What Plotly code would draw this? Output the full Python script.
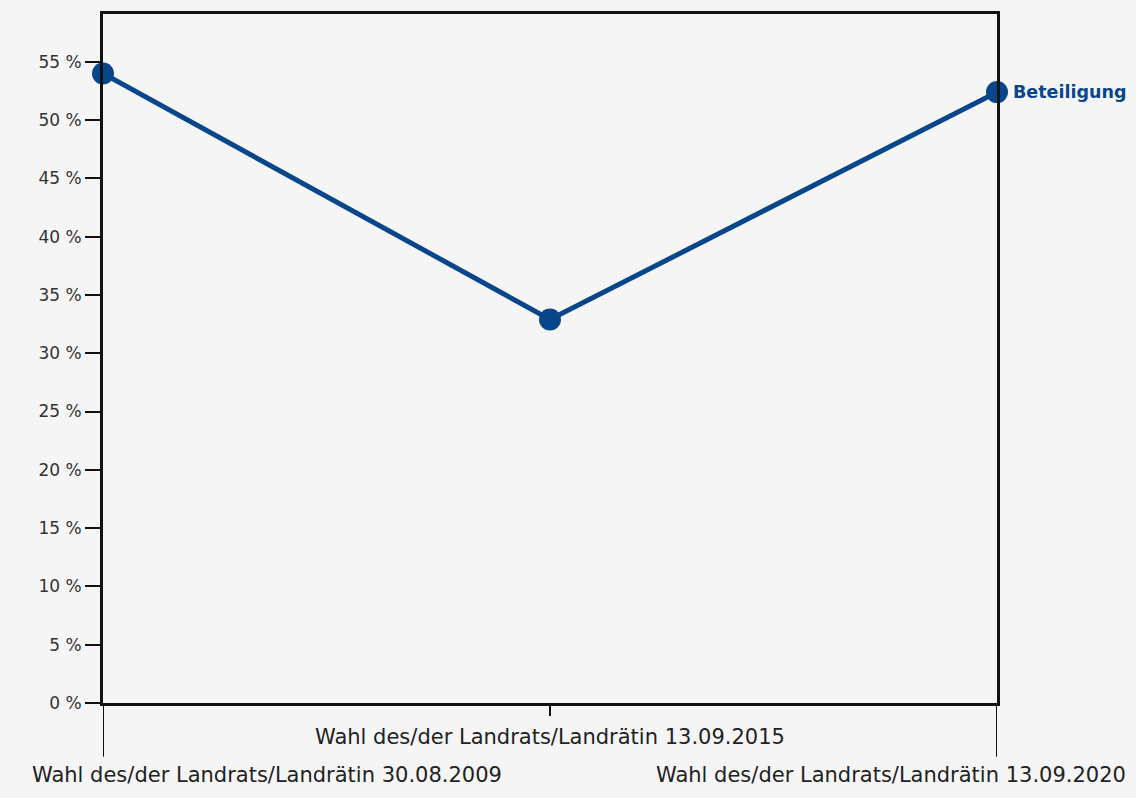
import plotly.graph_objects as go

categories = [
    "Wahl des/der Landrats/Landrätin 30.08.2009",
    "Wahl des/der Landrats/Landrätin 13.09.2015",
    "Wahl des/der Landrats/Landrätin 13.09.2020",
]
beteiligung = [54.0, 32.9, 52.4]
series_name = "Beteiligung"
title_text = "Wahlbeteiligung"
y_ticks = list(range(0, 56, 5))
y_ticktext = [f"{v} %" for v in y_ticks]

BLUE = "#07468a"
BG = "#f5f5f5"
FONT = "DejaVu Sans, Verdana, sans-serif"

x_idx = list(range(len(categories)))

fig = go.Figure()
fig.add_trace(go.Scatter(
    x=x_idx, y=beteiligung, mode="lines+markers", name=series_name,
    line=dict(color=BLUE, width=5),
    marker=dict(color=BLUE, size=22),
    cliponaxis=False, showlegend=False,
))

# series label at the last point
fig.add_annotation(
    x=x_idx[-1], y=beteiligung[-1], xref="x", yref="y",
    text="<b>" + series_name + "</b>", showarrow=False, xanchor="left", yanchor="middle",
    xshift=14, font=dict(family=FONT, size=17.5, color=BLUE),
)

# x category labels (staggered) and tick lines
n = len(categories)
for i, cat in enumerate(categories):
    long_tick = (i % 2 == 0)
    fig.add_shape(type="line", xref="x", yref="paper",
                  x0=i, x1=i, y0=0, y1=(-0.078 if long_tick else -0.019),
                  line=dict(color="#111111", width=2), layer="above")
    if i == 0:
        anchor, shift = "left", -73
    elif i == n - 1:
        anchor, shift = "right", 131
    else:
        anchor, shift = "center", 0
    fig.add_annotation(
        x=i, y=0, xref="x", yref="paper", text=cat, showarrow=False,
        xanchor=anchor, xshift=shift, yanchor="middle",
        yshift=(-72 if long_tick else -34),
        font=dict(family=FONT, size=21, color="#222222"),
    )

# title (mostly clipped at top of page)
fig.add_annotation(
    x=0.534, y=1.03, xref="paper", yref="paper", text="<b>" + title_text + "</b>",
    showarrow=False, xanchor="center", yanchor="bottom",
    font=dict(family=FONT, size=26, color="#222222"),
)

fig.update_xaxes(
    range=[0, n - 1], showticklabels=False, ticks="",
    showgrid=False, zeroline=False, showline=True, mirror=True,
    linecolor="#111111", linewidth=3,
)
fig.update_yaxes(
    range=[0, 59.1], tickmode="array", tickvals=y_ticks, ticktext=y_ticktext,
    ticks="outside", ticklen=15, tickwidth=2, tickcolor="#111111",
    showgrid=False, zeroline=False, showline=True, mirror=True,
    linecolor="#111111", linewidth=3,
    tickfont=dict(family=FONT, size=17, color="#333333"),
)

fig.update_layout(
    width=1136, height=798,
    margin=dict(l=103, r=139, t=14, b=95),
    paper_bgcolor=BG, plot_bgcolor=BG,
    font=dict(family=FONT),
)

fig.write_html(
    "out.html",
    config={"displayModeBar": False},
    post_script="document.body.style.margin='0';document.body.style.background='#f5f5f5';",
)
